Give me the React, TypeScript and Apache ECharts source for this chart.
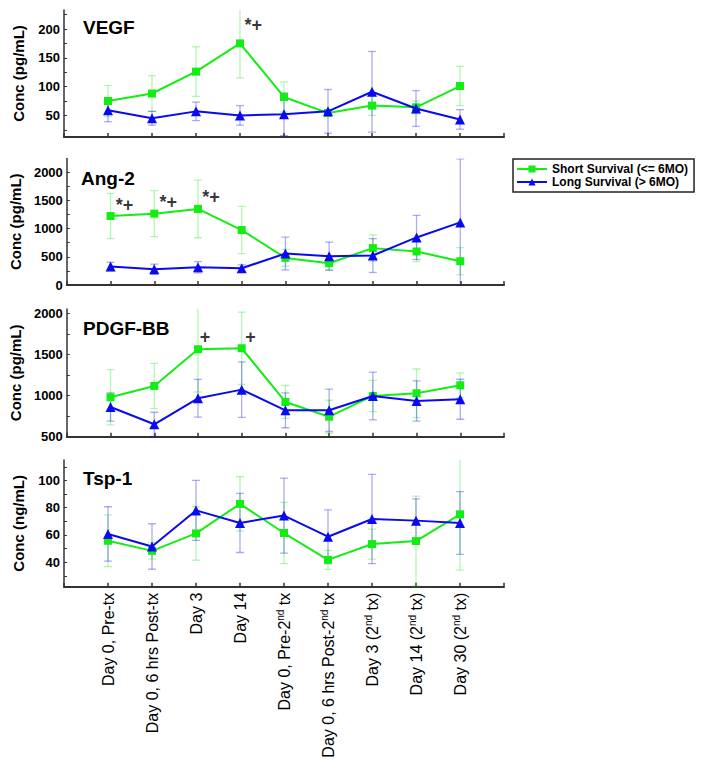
import React, { useEffect, useRef } from "react";
import * as echarts from "echarts";

const categories = [
  "Day 0, Pre-tx",
  "Day 0, 6 hrs Post-tx",
  "Day 3",
  "Day 14",
  "Day 0, Pre-2nd tx",
  "Day 0, 6 hrs Post-2nd tx",
  "Day 3 (2nd tx)",
  "Day 14 (2nd tx)",
  "Day 30 (2nd tx)",
];

const panelNames = ["VEGF", "Ang-2", "PDGF-BB", "Tsp-1"];
const unitLabels = ["Conc (pg/mL)", "Conc (pg/mL)", "Conc (pg/mL)", "Conc (ng/mL)"];
const shortName = "Short Survival (<= 6MO)";
const longName = "Long Survival (> 6MO)";

// VEGF
const vegfShort = [75, 88, 126, 175, 82, 54, 67, 64, 101];
const vegfShortErr = [27, 31, 43, 60, 26, 5, 17, 11, 34];
const vegfLong = [59, 45, 57, 50, 52, 57, 91, 62, 43];
const vegfLongErr = [20, 12, 16, 17, 37, 38, 70, 31, 17];
// Ang-2
const ang2Short = [1222, 1263, 1347, 973, 480, 386, 653, 593, 421];
const ang2ShortErr = [400, 407, 510, 418, 150, 120, 235, 180, 240];
const ang2Long = [326, 279, 315, 297, 557, 510, 522, 842, 1108];
const ang2LongErr = [75, 90, 100, 60, 290, 250, 300, 390, 1125];
// PDGF-BB
const pdgfShort = [979, 1117, 1563, 1575, 922, 743, 995, 1028, 1125];
const pdgfShortErr = [335, 275, 520, 440, 200, 200, 190, 295, 150];
const pdgfLong = [861, 651, 967, 1072, 821, 821, 995, 934, 955];
const pdgfLongErr = [172, 146, 230, 338, 212, 258, 290, 245, 243];
// Tsp-1
const tspShort = [55.7, 48.3, 61.1, 82.8, 61.4, 41.7, 53.3, 55.5, 75.1];
const tspShortErr = [19, 6, 19.6, 20, 22.5, 7, 11, 33, 41];
const tspLong = [60.7, 51.5, 78, 68.8, 74.2, 58.7, 71.7, 70.5, 68.8];
const tspLongErr = [20, 16.7, 22, 21.7, 27.5, 19.7, 32.7, 16, 23];

// significance marks: [x position, value, text]
const vegfMarks: [number, number, string][] = [[4.3, 207, "*+"]];
const ang2Marks: [number, number, string][] = [
  [1.32, 1423, "*+"],
  [2.32, 1477, "*+"],
  [3.3, 1566, "*+"],
];
const pdgfMarks: [number, number, string][] = [
  [3.16, 1713, "+"],
  [4.2, 1713, "+"],
];
const tspMarks: [number, number, string][] = [];

// y-axis ranges and ticks
const yMins = [12.5, 0, 500, 22];
const yMaxs = [233, 2240, 2052, 115];
const yTicks = [
  [25, 50, 75, 100, 125, 150, 175, 200, 225],
  [0, 250, 500, 750, 1000, 1250, 1500, 1750, 2000],
  [500, 750, 1000, 1250, 1500, 1750, 2000],
  [30, 40, 50, 60, 70, 80, 90, 100, 110],
];
const yLabels = [
  [50, 100, 150, 200],
  [0, 500, 1000, 1500, 2000],
  [500, 1000, 1500, 2000],
  [40, 60, 80, 100],
];

const panels = [
  { s: vegfShort, se: vegfShortErr, l: vegfLong, le: vegfLongErr, marks: vegfMarks },
  { s: ang2Short, se: ang2ShortErr, l: ang2Long, le: ang2LongErr, marks: ang2Marks },
  { s: pdgfShort, se: pdgfShortErr, l: pdgfLong, le: pdgfLongErr, marks: pdgfMarks },
  { s: tspShort, se: tspShortErr, l: tspLong, le: tspLongErr, marks: tspMarks },
];

const GREEN = "#12ee12";
const BLUE = "#0a0af0";
const GREEN_ERR = "rgba(40,230,40,0.35)";
const BLUE_ERR = "rgba(20,20,230,0.35)";
const FONT = "'Liberation Sans', Arial, Helvetica, sans-serif";

const gridTops = [10, 158.5, 309, 460];
const gridHeights = [127, 126.5, 127.7, 126.7];
const titlePos = [
  [83, 27],
  [81, 178],
  [83, 328],
  [83, 478],
];

function richLabel(text: string): string {
  const parts = text.split("2nd");
  if (parts.length === 1) return "{n|" + text + "}";
  return "{n|" + parts[0] + "2}{s|nd}{n|" + parts[1] + "}";
}

function errSeries(values: number[], errs: number[], color: string, p: number) {
  return {
    type: "custom",
    xAxisIndex: p,
    yAxisIndex: p,
    clip: true,
    z: 1,
    silent: true,
    encode: { x: 0, y: [1, 2] },
    data: values.map((v, i) => [i + 1, v - errs[i], v + errs[i]]),
    renderItem: (params: any, api: any) => {
      const x = api.value(0);
      const lo = api.coord([x, api.value(1)]);
      const hi = api.coord([x, api.value(2)]);
      const w = 4;
      const style = { stroke: color, lineWidth: 1.3 };
      return {
        type: "group",
        children: [
          { type: "line", shape: { x1: lo[0], y1: lo[1], x2: hi[0], y2: hi[1] }, style },
          { type: "line", shape: { x1: lo[0] - w, y1: lo[1], x2: lo[0] + w, y2: lo[1] }, style },
          { type: "line", shape: { x1: hi[0] - w, y1: hi[1], x2: hi[0] + w, y2: hi[1] }, style },
        ],
      };
    },
  };
}

export default function App() {
  const ref = useRef<HTMLDivElement>(null);
  useEffect(() => {
    if (!ref.current) return;
    const chart = echarts.init(ref.current, undefined, { renderer: "svg" });
    const grids: any[] = [];
    const xAxes: any[] = [];
    const yAxes: any[] = [];
    const series: any[] = [];
    const graphics: any[] = [];

    panels.forEach((pd, p) => {
      grids.push({ left: 64, width: 440, top: gridTops[p], height: gridHeights[p] });
      const isLast = p === panels.length - 1;
      xAxes.push({
        type: "value",
        gridIndex: p,
        min: 0,
        max: 10,
        interval: 1,
        splitLine: { show: false },
        axisLine: { show: true, lineStyle: { color: "#333", width: 2 } },
        axisTick: { show: true, inside: true, length: 4, lineStyle: { color: "#333", width: 1.5 } },
        axisLabel: isLast
          ? {
              show: true,
              rotate: 90,
              margin: 6,
              interval: 0,
              formatter: (v: number) => {
                const idx = Math.round(v) - 1;
                if (idx < 0 || idx >= categories.length) return "";
                return richLabel(categories[idx]);
              },
              rich: {
                n: { fontSize: 16, fontFamily: FONT, color: "#000", lineHeight: 18 },
                s: { fontSize: 10, fontFamily: FONT, color: "#000", verticalAlign: "top", lineHeight: 18 },
              },
            }
          : { show: false },
      });
      yAxes.push({
        type: "value",
        gridIndex: p,
        min: yMins[p],
        max: yMaxs[p],
        name: unitLabels[p],
        nameLocation: "middle",
        nameGap: 38,
        nameTextStyle: { fontSize: 15, fontWeight: "bold", fontFamily: FONT, color: "#000" },
        splitLine: { show: false },
        axisLine: { show: true, lineStyle: { color: "#333", width: 1.5 } },
        axisTick: {
          show: true,
          inside: true,
          length: 3,
          customValues: yTicks[p],
          lineStyle: { color: "#333", width: 1 },
        },
        axisLabel: {
          show: true,
          margin: 4,
          customValues: yLabels[p],
          formatter: (v: number) => String(v),
          fontSize: 13,
          fontWeight: "bold",
          fontFamily: FONT,
          color: "#000",
        },
      });

      series.push(errSeries(pd.s, pd.se, GREEN_ERR, p));
      series.push(errSeries(pd.l, pd.le, BLUE_ERR, p));
      series.push({
        type: "line",
        name: shortName,
        xAxisIndex: p,
        yAxisIndex: p,
        data: pd.s.map((v, i) => [i + 1, v]),
        symbol: "rect",
        symbolSize: 8,
        lineStyle: { color: GREEN, width: 2 },
        itemStyle: { color: GREEN },
        z: 3,
      });
      series.push({
        type: "line",
        name: longName,
        xAxisIndex: p,
        yAxisIndex: p,
        data: pd.l.map((v, i) => [i + 1, v]),
        symbol: "triangle",
        symbolSize: 10,
        lineStyle: { color: BLUE, width: 2 },
        itemStyle: { color: BLUE },
        z: 4,
      });
      if (pd.marks.length) {
        series.push({
          type: "scatter",
          xAxisIndex: p,
          yAxisIndex: p,
          symbolSize: 0,
          silent: true,
          data: pd.marks.map((m) => ({ value: [m[0], m[1]], text: m[2] })),
          label: {
            show: true,
            position: "inside",
            formatter: (prm: any) => prm.data.text,
            fontSize: 18,
            fontWeight: "bold",
            fontFamily: FONT,
            color: "#000",
          },
          z: 5,
        });
      }
      graphics.push({
        type: "text",
        x: titlePos[p][0],
        y: titlePos[p][1],
        style: {
          text: panelNames[p],
          fontSize: 19,
          fontWeight: "bold",
          fontFamily: FONT,
          fill: "#000",
          textVerticalAlign: "middle",
        },
      });
    });

    chart.setOption({
      animation: false,
      backgroundColor: "#fff",
      grid: grids,
      xAxis: xAxes,
      yAxis: yAxes,
      series,
      graphic: graphics,
      legend: {
        data: [shortName, longName],
        orient: "vertical",
        left: 513,
        top: 159,
        itemWidth: 30,
        itemHeight: 9,
        itemGap: 1,
        padding: [4, 6, 4, 3],
        borderColor: "#222",
        borderWidth: 1.5,
        textStyle: { fontSize: 12, fontWeight: "bold", fontFamily: FONT, color: "#000" },
      },
    });
    return () => chart.dispose();
  }, []);
  return (
    <div
      ref={ref}
      style={{ position: "absolute", left: 0, top: 0, width: 704, height: 782 }}
    />
  );
}
